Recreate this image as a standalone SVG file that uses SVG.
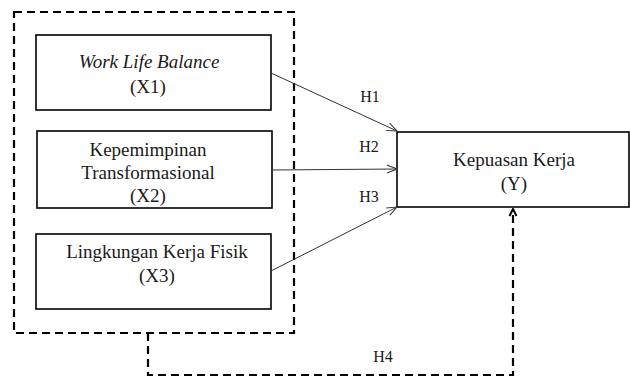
<svg xmlns="http://www.w3.org/2000/svg" width="630" height="380" viewBox="0 0 630 380">
<style>
.box{fill:#fff;stroke:#000;stroke-width:1.6}
.t{font-family:"Liberation Serif","Times New Roman",serif;font-size:19px;fill:#1a1a1a;text-anchor:middle}
.lab{font-family:"Liberation Serif","Times New Roman",serif;font-size:16px;fill:#1a1a1a;text-anchor:middle}
.dash{fill:none;stroke:#000;stroke-width:2.2;stroke-dasharray:8 5}
.arr{fill:none;stroke:#333;stroke-width:1;marker-end:url(#ah)}
</style>
<defs>
<marker id="ah" markerWidth="12" markerHeight="10" refX="11" refY="5" orient="auto" markerUnits="userSpaceOnUse">
<path d="M1,1 L11,5 L1,9" fill="none" stroke="#333" stroke-width="1"/>
</marker>
<marker id="ahd" markerWidth="12" markerHeight="10" refX="11" refY="5" orient="auto" markerUnits="userSpaceOnUse">
<path d="M4,1.5 L11,5 L4,8.5" fill="none" stroke="#000" stroke-width="2"/>
</marker>
</defs>
<g id="group-x">
<rect x="14" y="12" width="280" height="321" class="dash"/>
</g>
<g id="x1">
<rect x="36" y="35" width="235" height="75" class="box"/>
<text x="149" y="68" class="t" font-style="italic">Work Life Balance</text>
<text x="148" y="93" class="t">(X1)</text>
</g>
<g id="x2">
<rect x="37" y="131" width="235" height="77" class="box"/>
<text x="148" y="156" class="t">Kepemimpinan</text>
<text x="148" y="179" class="t">Transformasional</text>
<text x="148" y="202" class="t">(X2)</text>
</g>
<g id="x3">
<rect x="36" y="234" width="235" height="75" class="box"/>
<text x="157" y="258" class="t">Lingkungan Kerja Fisik</text>
<text x="157" y="282" class="t">(X3)</text>
</g>
<g id="y">
<rect x="397" y="132" width="232" height="75" class="box"/>
<text x="514" y="166" class="t">Kepuasan Kerja</text>
<text x="514" y="190" class="t">(Y)</text>
</g>
<g id="connectors">
<line x1="271" y1="73" x2="397" y2="131" class="arr"/>
<line x1="272" y1="170" x2="397" y2="169" class="arr"/>
<line x1="271" y1="271" x2="397" y2="207" class="arr"/>
<polyline points="148,333 148,375 513,375 513,209" class="dash" marker-end="url(#ahd)"/>
<text x="370" y="102" class="lab">H1</text>
<text x="369" y="152" class="lab">H2</text>
<text x="369" y="202" class="lab">H3</text>
<text x="383" y="362" class="lab">H4</text>
</g>
</svg>
